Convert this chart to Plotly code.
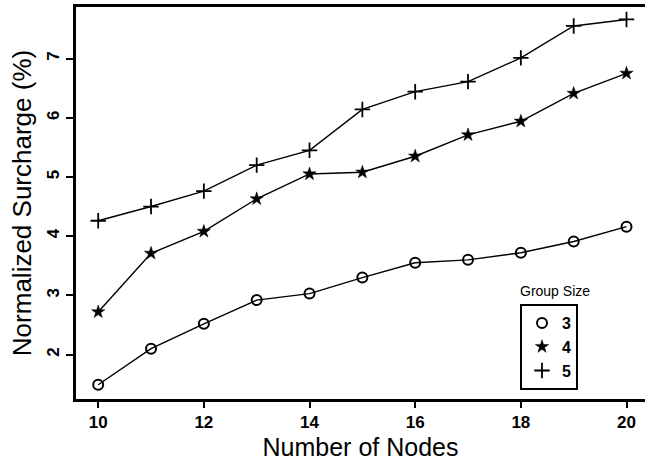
import plotly.graph_objects as go

nodes = [10, 11, 12, 13, 14, 15, 16, 17, 18, 19, 20]
group3 = [1.49, 2.10, 2.52, 2.92, 3.03, 3.30, 3.55, 3.60, 3.72, 3.91, 4.16]
group4 = [2.72, 3.71, 4.08, 4.63, 5.05, 5.08, 5.35, 5.71, 5.94, 6.41, 6.75]
group5 = [4.26, 4.50, 4.76, 5.20, 5.45, 6.14, 6.44, 6.61, 7.01, 7.55, 7.66]
x_ticks = [10, 12, 14, 16, 18, 20]
y_ticks = [2, 3, 4, 5, 6, 7]
legend_names = ["3", "4", "5"]

FONT = "Liberation Sans, Arial, Helvetica, sans-serif"
W, H = 645, 468
L, R, T, B = 76, 0, 7, 69

series = [
    (group3, dict(symbol="circle-open", size=10, color="black", line=dict(width=2, color="black"))),
    (group4, dict(symbol="star", size=10, color="black", line=dict(width=0.5, color="black"))),
    (group5, dict(symbol="cross-thin", size=11, color="black", line=dict(width=1.8, color="black"))),
]

fig = go.Figure()
for (vals, mk), name in zip(series, legend_names):
    fig.add_trace(go.Scatter(
        x=nodes, y=vals, mode="lines+markers",
        line=dict(color="black", width=1.4),
        marker=mk, showlegend=False, name=name, hoverinfo="skip",
    ))
    fig.add_trace(go.Scatter(
        x=[None], y=[None], mode="markers", marker=mk, name=name, showlegend=True,
    ))

pw = W - L - R
ph = H - T - B

fig.update_layout(
    width=W, height=H,
    margin=dict(l=L, r=R, t=T, b=B, pad=0),
    paper_bgcolor="white", plot_bgcolor="white",
    font=dict(family=FONT, color="black"),
    legend=dict(
        x=(520 - L) / pw, y=(H - B - 304) / ph, xanchor="left", yanchor="top",
        bordercolor="black", borderwidth=2, bgcolor="white",
        font=dict(size=16, family=FONT, color="black", weight="bold"),
        tracegroupgap=0, itemwidth=30,
    ),
    xaxis=dict(
        range=[9.58, 20.35], tickvals=x_ticks, ticktext=[str(v) for v in x_ticks],
        showgrid=False, zeroline=False,
        showline=True, linecolor="black", linewidth=2.5, mirror=True,
        ticks="outside", ticklen=6, tickwidth=2, tickcolor="black",
        tickfont=dict(size=17, family=FONT, weight="bold"),
        title=dict(text="Number of Nodes", font=dict(size=25, family=FONT), standoff=8),
    ),
    yaxis=dict(
        range=[1.25, 7.87], tickvals=y_ticks, ticktext=[str(v) for v in y_ticks],
        showgrid=False, zeroline=False,
        showline=True, linecolor="black", linewidth=2.5, mirror=False,
        ticks="outside", ticklen=7, tickwidth=2, tickcolor="black",
        tickangle=-90,
        tickfont=dict(size=17, family=FONT, weight="bold"),
        title=dict(text="Normalized Surcharge (%)", font=dict(size=26, family=FONT), standoff=6),
    ),
    annotations=[dict(
        text="Group Size", xref="paper", yref="paper",
        x=(555 - L) / pw, y=(H - B - 291) / ph, xanchor="center", yanchor="middle",
        showarrow=False, font=dict(size=14, family=FONT, color="black"),
    )],
)

fig.write_html("out.html")
